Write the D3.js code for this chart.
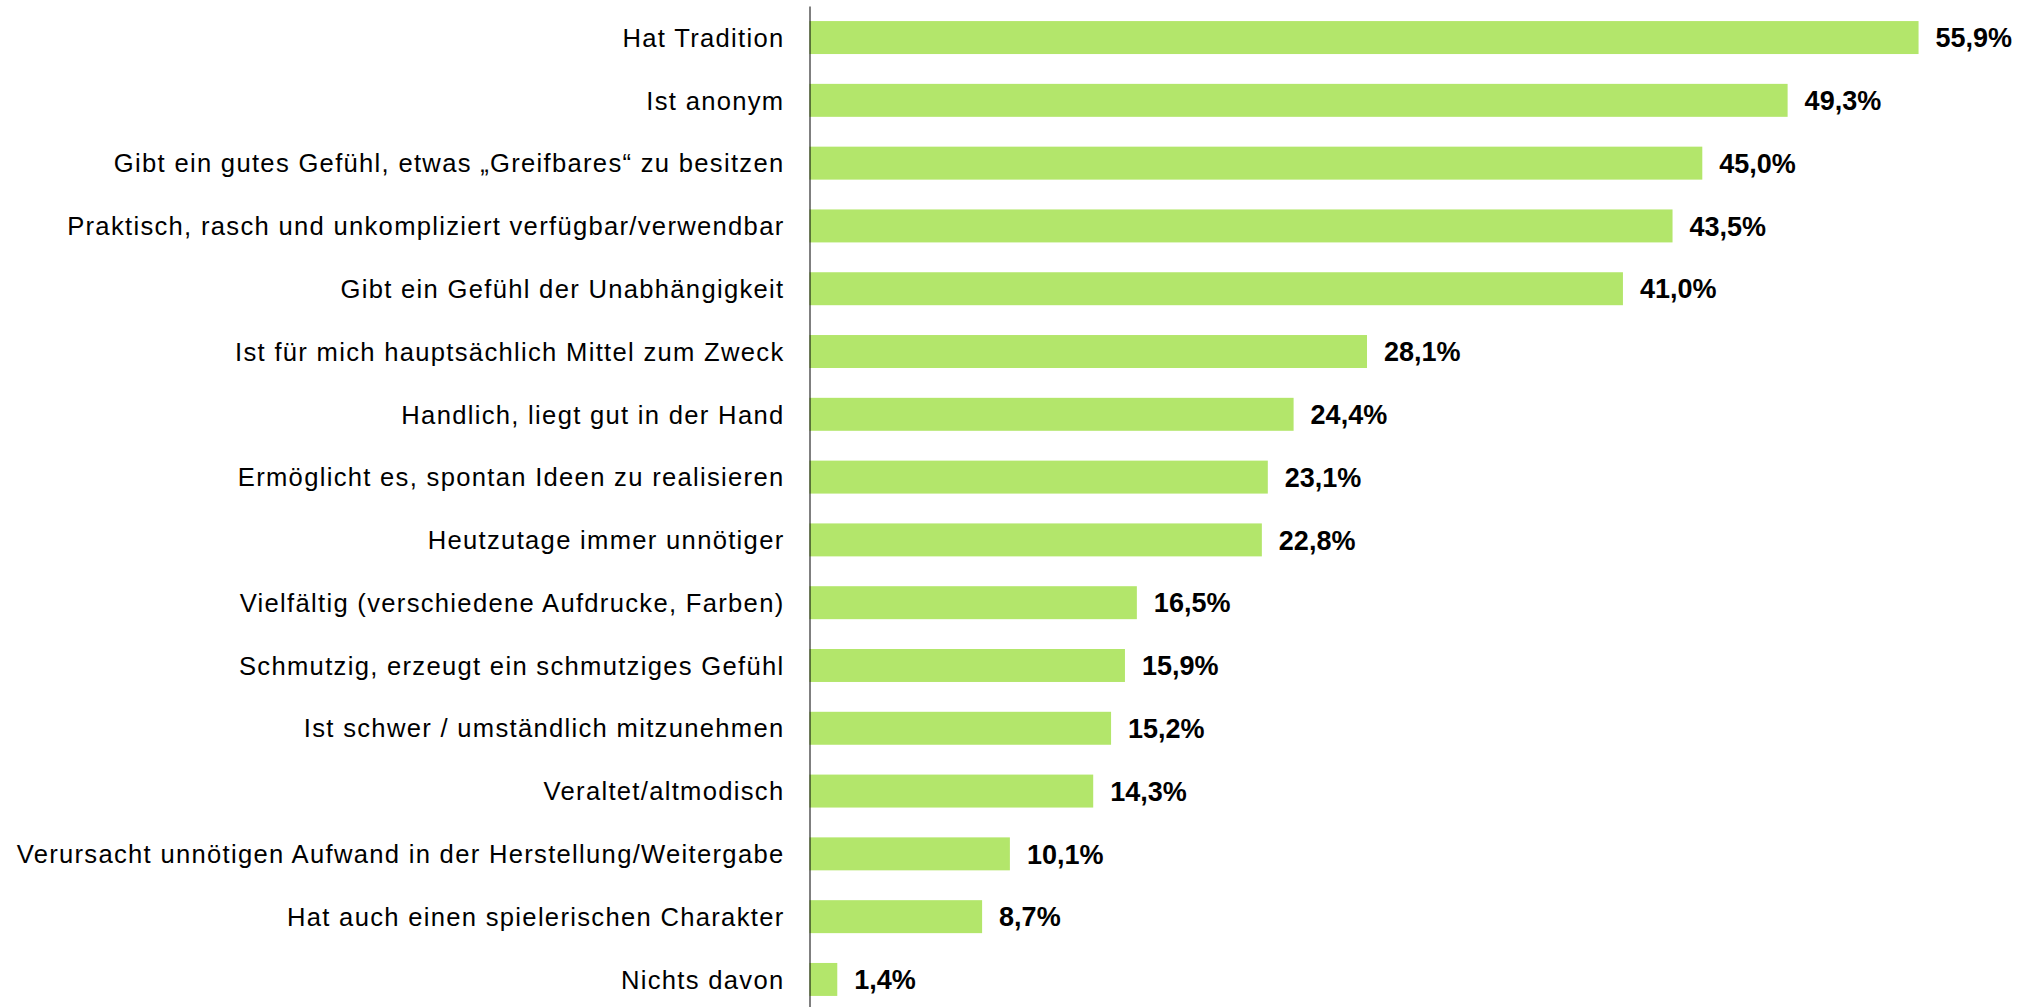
<!DOCTYPE html>
<html>
<head>
<meta charset="utf-8">
<script src="https://cdn.jsdelivr.net/npm/d3@7"></script>
<style>
  body { margin: 0; background: #fff; }
  svg { display: block; }
  text { font-family: "Liberation Sans", Arial, sans-serif; }
</style>
</head>
<body>
<div id="chart"></div>
<script>
// Categories (top to bottom) and their shares in percent.
const categories = [
  "Hat Tradition",
  "Ist anonym",
  "Gibt ein gutes Gefühl, etwas „Greifbares“ zu besitzen",
  "Praktisch, rasch und unkompliziert verfügbar/verwendbar",
  "Gibt ein Gefühl der Unabhängigkeit",
  "Ist für mich hauptsächlich Mittel zum Zweck",
  "Handlich, liegt gut in der Hand",
  "Ermöglicht es, spontan Ideen zu realisieren",
  "Heutzutage immer unnötiger",
  "Vielfältig (verschiedene Aufdrucke, Farben)",
  "Schmutzig, erzeugt ein schmutziges Gefühl",
  "Ist schwer / umständlich mitzunehmen",
  "Veraltet/altmodisch",
  "Verursacht unnötigen Aufwand in der Herstellung/Weitergabe",
  "Hat auch einen spielerischen Charakter",
  "Nichts davon"
];
const values = [55.9, 49.3, 45.0, 43.5, 41.0, 28.1, 24.4, 23.1, 22.8, 16.5, 15.9, 15.2, 14.3, 10.1, 8.7, 1.4];

const data = categories.map((c, i) => ({ label: c, value: values[i] }));

const width = 2029;
const height = 1007;
const marginLeft = 809.5;

const x = d3.scaleLinear()
  .domain([0, 60])
  .range([marginLeft, marginLeft + 60 * 19.84]);

const y = d3.scaleBand()
  .domain(categories)
  .range([6, 1011])
  .paddingInner(0.475)
  .paddingOuter(0.24);

const fmt = v => d3.format(".1f")(v).replace(".", ",") + "%";

const svg = d3.select("#chart")
  .append("svg")
  .attr("width", width)
  .attr("height", height)
  .attr("viewBox", `0 0 ${width} ${height}`);

// Bars
svg.append("g")
  .attr("fill", "#b3e66b")
  .selectAll("rect")
  .data(data)
  .join("rect")
  .attr("x", x(0))
  .attr("y", d => y(d.label))
  .attr("width", d => x(d.value) - x(0))
  .attr("height", y.bandwidth());

// Value labels
svg.append("g")
  .selectAll("text")
  .data(data)
  .join("text")
  .attr("x", d => x(d.value) + 17)
  .attr("y", d => y(d.label) + y.bandwidth() / 2)
  .attr("dy", "0.36em")
  .style("font-family", "'Liberation Sans', Arial, sans-serif")
  .attr("font-weight", "bold")
  .attr("font-size", 27)
  .attr("fill", "#000")
  .text(d => fmt(d.value));

// Category axis
svg.append("g")
  .attr("transform", `translate(${marginLeft}, 0)`)
  .call(d3.axisLeft(y).tickSize(0).tickPadding(25).tickSizeOuter(0))
  .call(g => g.attr("font-family", null))
  .call(g => g.select(".domain").attr("stroke", "#000").attr("stroke-width", 1))
  .call(g => g.selectAll(".tick text")
    .style("font-family", "'Liberation Sans', Arial, sans-serif")
    .attr("font-size", 25.6)
    .attr("letter-spacing", "1.3px")
    .attr("fill", "#000")
    .attr("dy", "0.36em"));
</script>
</body>
</html>
